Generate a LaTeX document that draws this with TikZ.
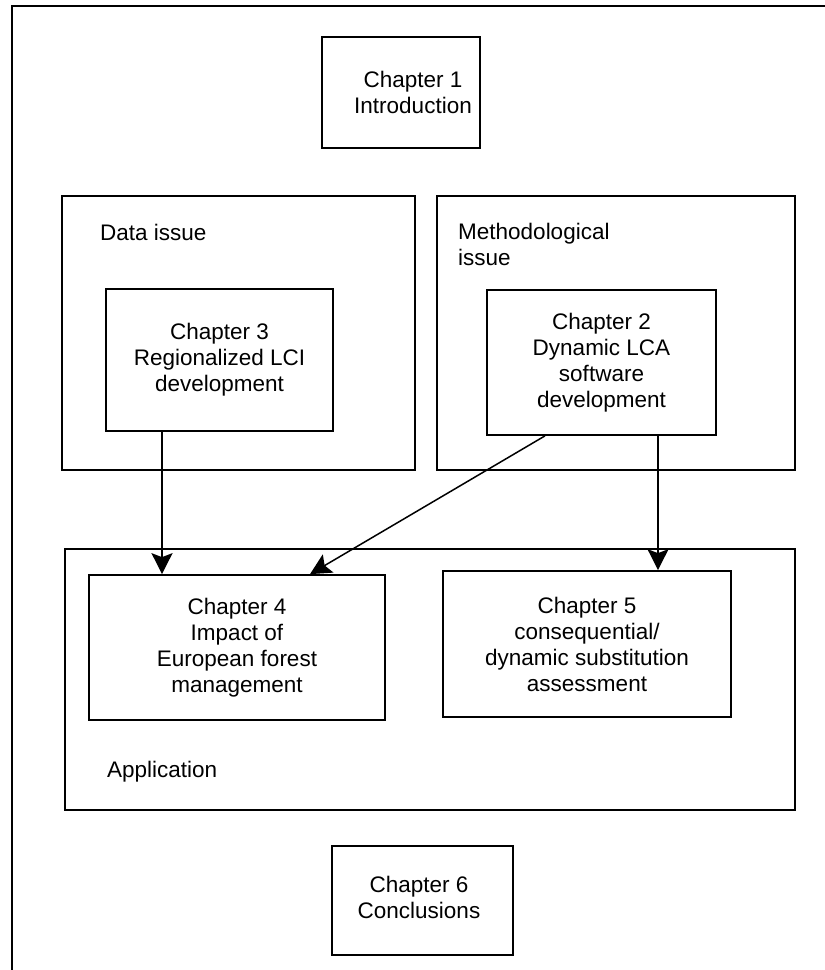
\documentclass[tikz,border=0pt]{standalone}
\usepackage{fontspec}
\setmainfont{Liberation Sans}
\usetikzlibrary{arrows.meta}
\begin{document}
\begin{tikzpicture}[x=1pt,y=-1pt,
  every node/.style={font=\fontsize{22.5}{26}\selectfont},
  chapbox/.style={draw, line width=1.7pt, align=center, inner sep=0pt},
  groupbox/.style={draw, line width=1.7pt, inner sep=0pt},
  grouplabel/.style={anchor=base west, align=left, inner sep=0pt},
  link/.style={line width=1.5pt, -{Stealth[length=21pt,width=21pt,inset=4pt]}}]
  \useasboundingbox (0,0) rectangle (825,970);

  % outer frame (runs off the page at right and bottom)
  \coordinate (frameTR) at (830,6);
  \coordinate (frameTL) at (12,6);
  \coordinate (frameBL) at (12,975);
  \draw[line width=2.2pt] (frameTR) -- (frameTL) -- (frameBL);

  % group containers
  \node[groupbox, minimum width=353pt, minimum height=274pt] (data) at (238.5,333) {};
  \node[groupbox, minimum width=358pt, minimum height=274pt] (method) at (616,333) {};
  \node[groupbox, minimum width=730pt, minimum height=261pt] (app) at (430,679.5) {};

  \node[grouplabel] (datalbl) at (100,240) {Data issue};
  \node[grouplabel] (methodlbl) at (458,265) {Methodological\\issue};
  \node[grouplabel] (applbl) at (107,777) {Application};

  % chapters
  \node[chapbox, minimum width=158pt, minimum height=111pt] (ch1) at (401,92.5) {};
  \node[align=center, inner sep=0pt] (ch1text) at (413,92.5) {Chapter 1\\Introduction};
  \node[chapbox, minimum width=227pt, minimum height=142pt] (ch3) at (219.5,360) {Chapter 3\\Regionalized LCI\\development};
  \node[chapbox, minimum width=229pt, minimum height=145pt] (ch2) at (601.5,362.5) {Chapter 2\\Dynamic LCA\\software\\development};
  \node[chapbox, minimum width=296pt, minimum height=145pt] (ch4) at (237,647.5) {Chapter 4\\Impact of\\European forest\\management};
  \node[chapbox, minimum width=288pt, minimum height=146pt] (ch5) at (587,644) {Chapter 5\\consequential/\\dynamic substitution\\assessment};
  \node[chapbox, minimum width=181pt, minimum height=109pt] (ch6) at (422.5,900.5) {};
  \node[align=center, inner sep=0pt] (ch6text) at (419,897) {Chapter 6\\Conclusions};

  % connectors
  \draw[link] (ch3.south -| 162,0) -- (ch4.north -| 162,0);
  \draw[link] ([xshift=-56.5pt]ch2.south) -- ([xshift=73pt]ch4.north);
  \draw[link] (ch2.south -| 658,0) -- (ch5.north -| 658,0);
\end{tikzpicture}
\end{document}
